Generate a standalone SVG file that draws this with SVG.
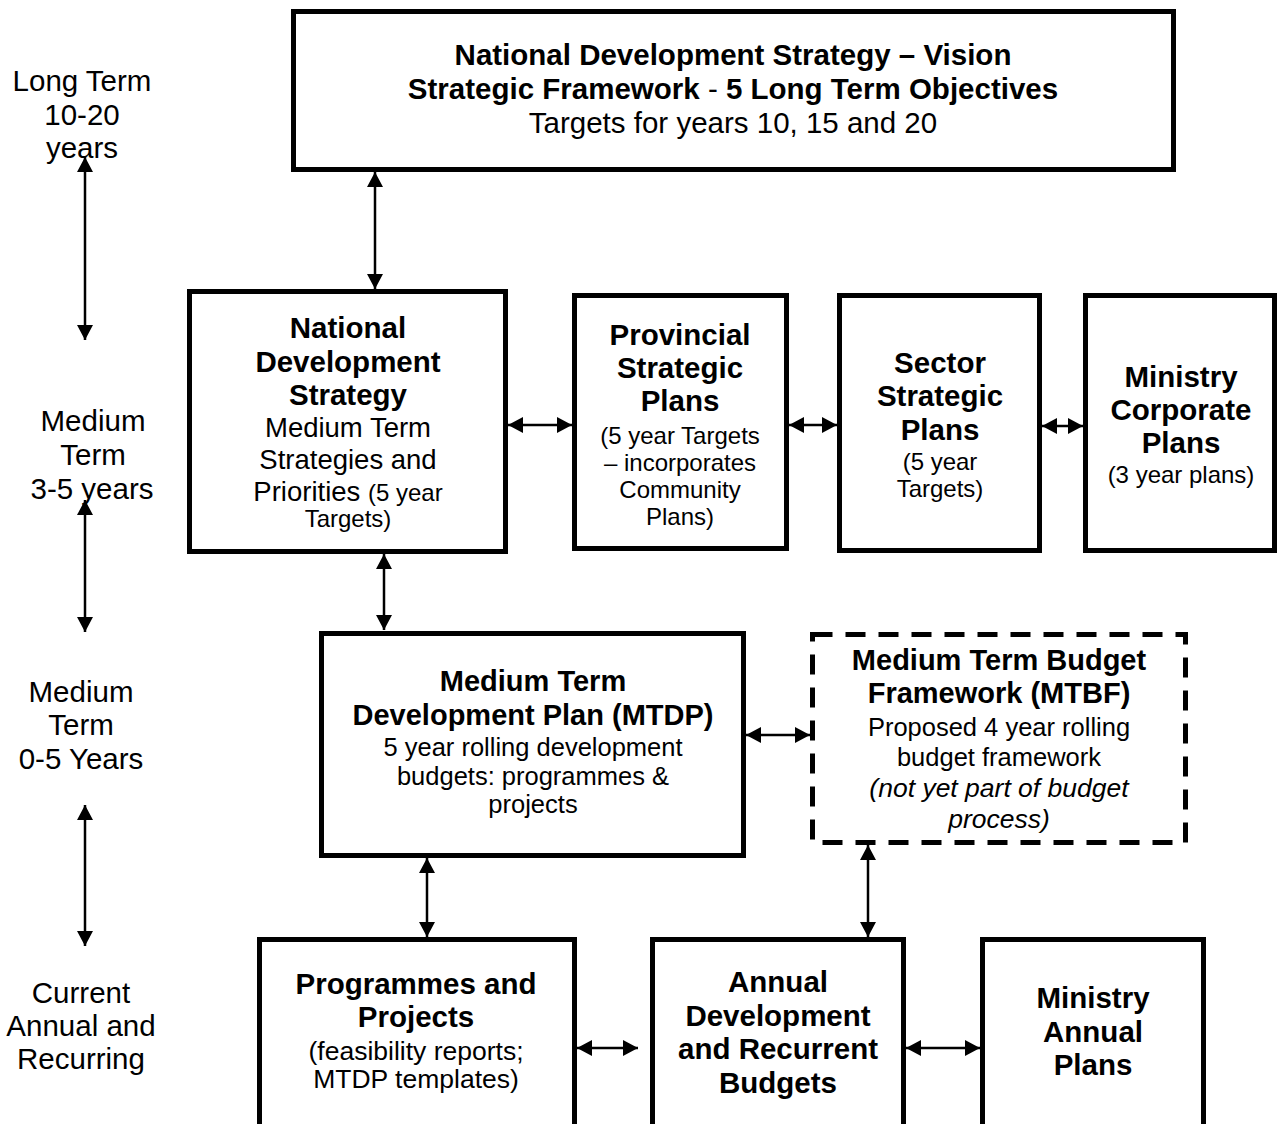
<svg xmlns="http://www.w3.org/2000/svg" width="1277" height="1124" viewBox="0 0 1277 1124">
<style>
text{font-family:"Liberation Sans",Arial,sans-serif;fill:#000;text-anchor:middle}
.b{font-weight:bold;font-size:29.5px}
.b2{font-weight:bold;font-size:29px}
.r{font-size:27.5px}
.r2{font-size:25.5px}
.r3{font-size:26.5px}
.t{font-size:29.5px}
.s{font-size:24px}
.l{font-size:29.5px}
.i{font-style:italic}
.box{fill:#fff;stroke:#000;stroke-width:5}
.dash{fill:#fff;stroke:#000;stroke-width:5;stroke-dasharray:20 13}
.c{stroke:#000;stroke-width:2.5;fill:none;marker-start:url(#ah);marker-end:url(#ah)}
</style>
<defs>
<marker id="ah" markerUnits="userSpaceOnUse" markerWidth="16" markerHeight="16" refX="15" refY="8" orient="auto-start-reverse" viewBox="0 0 16 16">
<path d="M0,0 L15,8 L0,16 z" fill="#000"/>
</marker>
</defs>
<rect width="1277" height="1124" fill="#fff"/>
<g id="labels">
<text class="l" x="82" y="91">Long Term</text>
<text class="l" x="82" y="125">10-20</text>
<text class="l" x="82" y="158">years</text>
<text class="l" x="93" y="431">Medium</text>
<text class="l" x="93" y="465">Term</text>
<text class="l" x="92" y="499">3-5 years</text>
<text class="l" x="81" y="702">Medium</text>
<text class="l" x="81" y="735">Term</text>
<text class="l" x="81" y="769">0-5 Years</text>
<text class="l" x="81" y="1003">Current</text>
<text class="l" x="81" y="1036">Annual and</text>
<text class="l" x="81" y="1069">Recurring</text>
</g>
<g id="connectors">
<line class="c" x1="85" y1="157" x2="85" y2="340"/>
<line class="c" x1="85" y1="500" x2="85" y2="632"/>
<line class="c" x1="85" y1="805" x2="85" y2="946"/>
<line class="c" x1="375" y1="172" x2="375" y2="289"/>
<line class="c" x1="508" y1="425" x2="572" y2="425"/>
<line class="c" x1="789" y1="425" x2="837" y2="425"/>
<line class="c" x1="1042" y1="426" x2="1083" y2="426"/>
<line class="c" x1="384" y1="554" x2="384" y2="630"/>
<line class="c" x1="746" y1="735" x2="810" y2="735"/>
<line class="c" x1="427" y1="858" x2="427" y2="937"/>
<line class="c" x1="868" y1="845" x2="868" y2="937"/>
<line class="c" x1="577" y1="1048" x2="638" y2="1048"/>
<line class="c" x1="906" y1="1048" x2="980" y2="1048"/>
</g>
<g id="nds-vision">
<rect class="box" x="293.5" y="11.5" width="880" height="158"/>
<text class="b" x="733" y="65">National Development Strategy – Vision</text>
<text class="b" x="733" y="99">Strategic Framework<tspan font-weight="normal"> - </tspan>5 Long Term Objectives</text>
<text class="t" x="733" y="133">Targets for years 10, 15 and 20</text>
</g>
<g id="nds">
<rect class="box" x="189.5" y="291.5" width="316" height="260"/>
<text class="b" x="348" y="338">National</text>
<text class="b" x="348" y="372">Development</text>
<text class="b" x="348" y="405">Strategy</text>
<text class="r" x="348" y="437">Medium Term</text>
<text class="r" x="348" y="469">Strategies and</text>
<text class="r" x="348" y="501">Priorities <tspan class="s">(5 year</tspan></text>
<text class="s" x="348" y="527">Targets)</text>
</g>
<g id="provincial">
<rect class="box" x="574.5" y="295.5" width="212" height="253"/>
<text class="b" x="680" y="345">Provincial</text>
<text class="b" x="680" y="378">Strategic</text>
<text class="b" x="680" y="411">Plans</text>
<text class="s" x="680" y="444">(5 year Targets</text>
<text class="s" x="680" y="471">– incorporates</text>
<text class="s" x="680" y="498">Community</text>
<text class="s" x="680" y="525">Plans)</text>
</g>
<g id="sector">
<rect class="box" x="839.5" y="295.5" width="200" height="255"/>
<text class="b" x="940" y="373">Sector</text>
<text class="b" x="940" y="406">Strategic</text>
<text class="b" x="940" y="440">Plans</text>
<text class="s" x="940" y="470">(5 year</text>
<text class="s" x="940" y="497">Targets)</text>
</g>
<g id="ministry-corporate">
<rect class="box" x="1085.5" y="295.5" width="189" height="255"/>
<text class="b" x="1181" y="387">Ministry</text>
<text class="b" x="1181" y="420">Corporate</text>
<text class="b" x="1181" y="453">Plans</text>
<text class="s" x="1181" y="483">(3 year plans)</text>
</g>
<g id="mtdp">
<rect class="box" x="321.5" y="633.5" width="422" height="222"/>
<text class="b2" x="533" y="691">Medium Term</text>
<text class="b2" x="533" y="725">Development Plan (MTDP)</text>
<text class="r2" x="533" y="756">5 year rolling development</text>
<text class="r2" x="533" y="785">budgets: programmes &amp;</text>
<text class="r2" x="533" y="813">projects</text>
</g>
<g id="mtbf">
<rect class="dash" x="812.5" y="634.5" width="373" height="208"/>
<text class="b2" x="999" y="670">Medium Term Budget</text>
<text class="b2" x="999" y="703">Framework (MTBF)</text>
<text class="r2" x="999" y="736">Proposed 4 year rolling</text>
<text class="r2" x="999" y="766">budget framework</text>
<text class="r3 i" x="999" y="797">(not yet part of budget</text>
<text class="r3 i" x="999" y="828">process)</text>
</g>
<g id="programmes">
<rect class="box" x="259.5" y="939.5" width="315" height="200"/>
<text class="b" x="416" y="994">Programmes and</text>
<text class="b" x="416" y="1027">Projects</text>
<text class="r3" x="416" y="1060">(feasibility reports;</text>
<text class="r3" x="416" y="1088">MTDP templates)</text>
</g>
<g id="annual-budgets">
<rect class="box" x="652.5" y="939.5" width="251" height="200"/>
<text class="b" x="778" y="992">Annual</text>
<text class="b" x="778" y="1026">Development</text>
<text class="b" x="778" y="1059">and Recurrent</text>
<text class="b" x="778" y="1093">Budgets</text>
</g>
<g id="ministry-annual">
<rect class="box" x="982.5" y="939.5" width="221" height="200"/>
<text class="b" x="1093" y="1008">Ministry</text>
<text class="b" x="1093" y="1042">Annual</text>
<text class="b" x="1093" y="1075">Plans</text>
</g>
</svg>
